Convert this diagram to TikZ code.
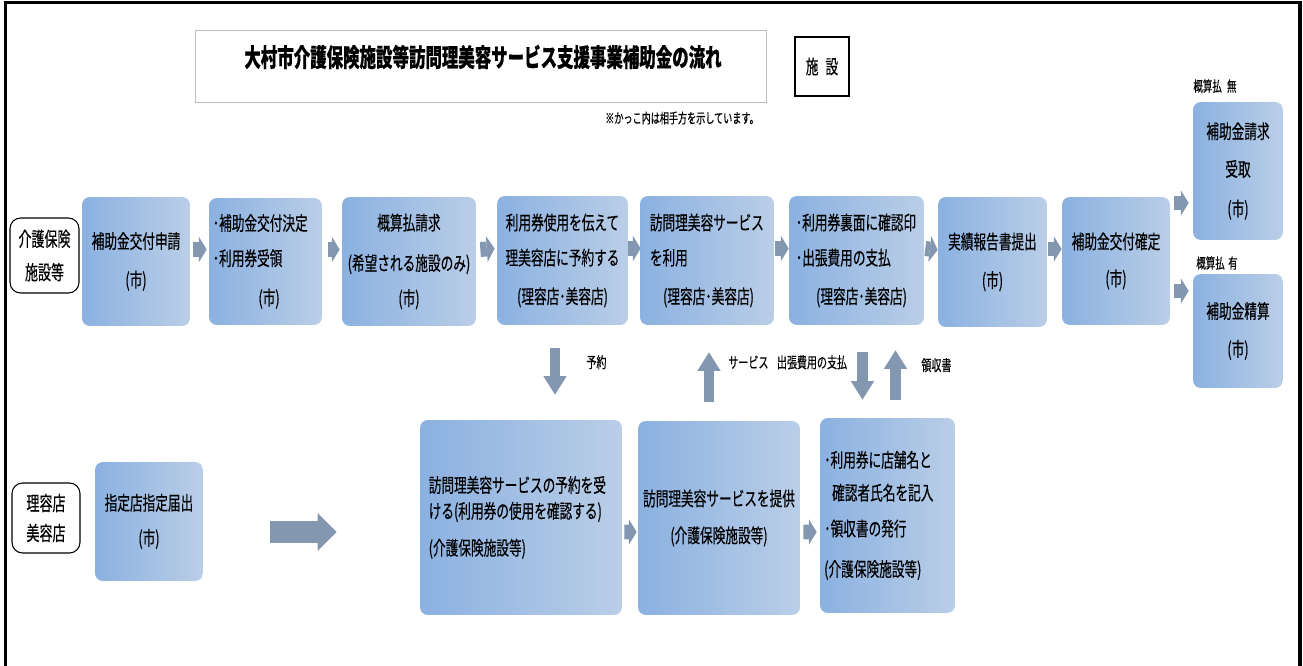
\documentclass[tikz,border=0pt]{standalone}
\usepackage{fontspec}
\setmainfont{Noto Sans CJK JP}[FakeStretch=0.655, FakeBold=0.4]
\usepackage{tikz}
\usetikzlibrary{arrows.meta,positioning}

\definecolor{boxleft}{RGB}{139,177,225}
\definecolor{boxright}{RGB}{186,206,231}
\definecolor{arrowgray}{RGB}{132,151,176}

\begin{document}
\begin{tikzpicture}[x=0.02cm, y=-0.02cm,
  flowbox/.style={rounded corners=4.5pt, left color=boxleft, right color=boxright,
    inner sep=2pt, align=center, font=\fontsize{11}{12}\selectfont},
  sidebox/.style={draw, line width=0.6pt, rounded corners=6pt, fill=white,
    align=center, font=\fontsize{11.3}{12}\selectfont},
  armlabel/.style={inner sep=0pt, text=black, font=\fontsize{8.7}{10}\selectfont},
  flowarrow/.style={color=arrowgray, line width=8.5pt,
    -{Triangle[length=4.5pt, width=14.7pt, line width=0pt, fill=arrowgray]}},
  downarrow/.style={color=arrowgray, line width=6.2pt,
    -{Triangle[length=10.5pt, width=13.2pt, line width=0pt, fill=arrowgray]}},
  bigarrow/.style={color=arrowgray, line width=12.5pt,
    -{Triangle[length=10.8pt, width=21.5pt, line width=0pt, fill=arrowgray]}}]

\useasboundingbox (0,0) rectangle (1303,666);
\draw[line width=2pt] (5.5,666) -- (5.5,2.5) -- (1300,2.5) -- (1300,666);

% heading
\node[draw=black!25, line width=0.5pt, minimum width=11.42cm, minimum height=1.44cm] (ttlbox) at (480.5,66) {};
\node[font=\fontsize{14.3}{16}\selectfont\bfseries] (ttl) at (483,57) {大村市介護保険施設等訪問理美容サービス支援事業補助金の流れ};
\node[draw, line width=1.1pt, minimum width=1.08cm, minimum height=1.18cm, font=\fontsize{11}{12}\selectfont] (shisetsu) at (822,66.5) {施\hspace{4pt}設};
\node[font=\fontsize{7.9}{9}\selectfont] (note) at (682,118) {※かっこ内は相手方を示しています。};

% row labels
\node[sidebox, minimum width=1.38cm, minimum height=1.50cm] (kaigo) at (44.5,255.5) {介護保険\\[7pt]施設等};
\node[sidebox, minimum width=1.36cm, minimum height=1.40cm] (riyou) at (46,518) {理容店\\[5pt]美容店};

% upper row
\node[flowbox, minimum width=2.16cm, minimum height=2.58cm] (b1) at (136,261.5) {補助金交付申請\\[10pt](市)};
\node[flowbox, minimum width=2.26cm, minimum height=2.54cm, align=left, text width=60pt] (b2) at (265.5,261.5)
  {･補助金交付決定\\[8pt]･利用券受領\\[10.5pt]\hspace*{26pt}(市)};
\node[flowbox, minimum width=2.68cm, minimum height=2.58cm] (b3) at (409,261.5) {概算払請求\\[11pt](希望される施設のみ)\\[8pt](市)};
\node[flowbox, minimum width=2.62cm, minimum height=2.58cm] (b4) at (562.5,260.5) {利用券使用を伝えて\\[8pt]理美容店に予約する\\[10pt](理容店･美容店)};
\node[flowbox, minimum width=2.68cm, minimum height=2.58cm, align=left, text width=65pt] (b5) at (707,260.5)
  {訪問理美容サービス\\[8pt]を利用\\[10pt]\hspace*{7.5pt}(理容店･美容店)};
\node[flowbox, minimum width=2.70cm, minimum height=2.58cm, align=left, text width=69pt] (b6) at (856.5,260.5)
  {･利用券裏面に確認印\\[8pt]･出張費用の支払\\[10pt]\hspace*{11.5pt}(理容店･美容店)};
\node[flowbox, minimum width=2.18cm, minimum height=2.60cm] (b7) at (992.5,262) {実績報告書提出\\[10pt](市)};
\node[flowbox, minimum width=2.16cm, minimum height=2.56cm] (b8) at (1116,261) {補助金交付確定\\[9pt](市)};
\node[flowbox, minimum width=1.80cm, minimum height=2.76cm] (r1) at (1238,171) {補助金請求\\[9.5pt]受取\\[10.5pt](市)};
\node[flowbox, minimum width=1.80cm, minimum height=2.28cm] (r2) at (1238,331) {補助金精算\\[9.5pt](市)};
\node[font=\fontsize{8.2}{9}\selectfont] (nashi) at (1215,86) {概算払\hspace{3pt}無};
\node[font=\fontsize{8.2}{9}\selectfont] (ari) at (1217,263) {概算払\hspace{2pt}有};

% lower row
\node[flowbox, minimum width=2.16cm, minimum height=2.38cm] (b9) at (149,521.5) {指定店指定届出\\[8pt](市)};
\node[flowbox, minimum width=4.04cm, minimum height=3.90cm, align=left, text width=105pt] (b10) at (521,517.5)
  {訪問理美容サービスの予約を受\\[2.7pt]ける(利用券の使用を確認する)\\[9pt](介護保険施設等)};
\node[flowbox, minimum width=3.24cm, minimum height=3.88cm] (b11) at (719,518) {訪問理美容サービスを提供\\[9pt](介護保険施設等)};
\node[flowbox, minimum width=2.70cm, minimum height=3.90cm, align=left, text width=72pt] (b12) at (887.5,515.5)
  {･利用券に店舗名と\\[6.7pt]\hspace*{4.5pt}確認者氏名を記入\\[8.4pt]･領収書の発行\\[11pt](介護保険施設等)};

\path[flowarrow]
      ([shift={(3,-12)}]b1.east) edge ([shift={(-2,-12)}]b2.west)
      ([shift={(6,-12)}]b2.east) edge ([shift={(-2,-12)}]b3.west)
      ([shift={(4,-12)}]b3.east) edge ([shift={(-2,-12)}]b4.west)
      ([shift={(0,-12)}]b4.east) edge ([shift={(1,-12)}]b5.west)
      ([shift={(1,-12)}]b5.east) edge ([shift={(0,-12)}]b6.west)
      ([shift={(1,-12)}]b6.east) edge ([shift={(0,-12)}]b7.west)
      ([shift={(1,-13)}]b7.east) edge ([shift={(0,-12)}]b8.west)
      ([shift={(4,-58)}]b8.east) edge ([shift={(-4,32)}]r1.west)
      ([shift={(4,30)}]b8.east) edge ([shift={(-4,-40)}]r2.west)
      ([shift={(2,14.5)}]b10.east) edge ([shift={(-1,14)}]b11.west)
      ([shift={(3,14)}]b11.east) edge ([shift={(-3,16.5)}]b12.west);

\path[bigarrow] ([shift={(67,10.5)}]b9.east) edge ([shift={(-83,14.5)}]b10.west);

\path[downarrow]
      ([shift={(-7.5,23)}]b4.south) edge node[armlabel, pos=.3, right=0.52cm] {予約} ([shift={(34,-25)}]b10.north)
      ([shift={(-10,-19)}]b11.north) edge node[armlabel, pos=.8, right=0.28cm] {サービス} ([shift={(2,27)}]b5.south)
      ([shift={(6,27)}]b6.south) edge node[armlabel, pos=.21, left=0.2cm] {出張費用の支払} ([shift={(-25,-18)}]b12.north)
      ([shift={(8,-18)}]b12.north) edge node[armlabel, pos=.7, right=0.41cm] {領収書} ([shift={(39,25)}]b6.south);
\end{tikzpicture}
\end{document}
